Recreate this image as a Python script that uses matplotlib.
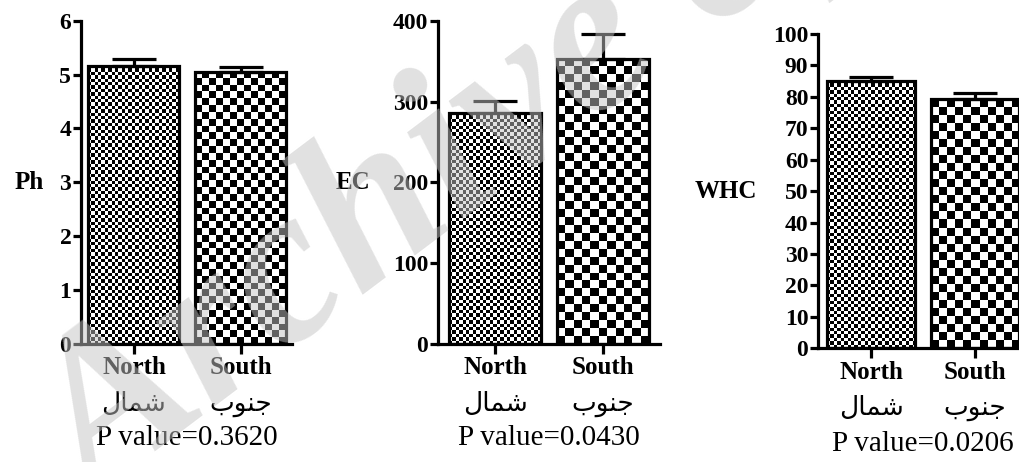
import numpy as np
import matplotlib
matplotlib.use('Agg')
import matplotlib.pyplot as plt

# ---------------- data ----------------
categories = ['North', 'South']
categories_fa = ['شمال', 'جنوب']
# Arabic presentation forms in visual order (matplotlib has no Arabic shaping)
fa_visual = {'شمال': '\ufedd\ufe8e\ufee4\ufeb7', 'جنوب': '\ufe8f\ufeee\ufee8\ufe9f'}

ph_means = [5.16, 5.05]
ph_err = [0.12, 0.09]
ec_means = [286, 353]
ec_err = [15, 30]
whc_means = [85.0, 79.2]
whc_err = [1.3, 1.9]

p_values = ['0.3620', '0.0430', '0.0206']
ylabels = ['Ph', 'EC', 'WHC']
yticks_ph = [0, 1, 2, 3, 4, 5, 6]
yticks_ec = [0, 100, 200, 300, 400]
yticks_whc = [0, 10, 20, 30, 40, 50, 60, 70, 80, 90, 100]

panels = [
    (ph_means, ph_err, yticks_ph),
    (ec_means, ec_err, yticks_ec),
    (whc_means, whc_err, yticks_whc),
]

# ---------------- layout ----------------
W, H = 1020, 462
fig = plt.figure(figsize=(W / 100, H / 100), dpi=100)
# pixel boxes: left, right, top, bottom
boxes = [(81, 292, 20.7, 344), (438, 660, 20.7, 344), (818, 1027, 34, 348.3)]
xlims = [(-0.495, 1.477), (-0.528, 1.528), (-0.51, 1.5)]
ylabel_x = [-0.175, -0.305, -0.29]
pval_y = [-0.291, -0.291, -0.303]
south_cell = [6.8, 8, 8]
north_cell = 3.4

SERIF = 'Liberation Serif'
LW = 2.3


def checker_fill(ax, bar, cell_px, zorder=2):
    x0, y0 = bar.get_x(), bar.get_y()
    w, h = bar.get_width(), bar.get_height()
    p0 = ax.transData.transform((x0, y0))
    p1 = ax.transData.transform((x0 + w, y0 + h))
    nx = max(1, int(round(abs(p1[0] - p0[0]) / cell_px)))
    ny = max(1, int(round(abs(p1[1] - p0[1]) / cell_px)))
    arr = (np.add.outer(np.arange(ny), np.arange(nx)) % 2).astype(float)
    im = ax.imshow(arr, cmap='gray', vmin=0, vmax=1,
                   extent=(x0, x0 + w, y0, y0 + h), origin='lower',
                   interpolation='nearest', aspect='auto', zorder=zorder)
    im.set_clip_path(bar)


for i, (means, errs, yt) in enumerate(panels):
    l, r, t, b = boxes[i]
    ax = fig.add_axes([l / W, 1 - b / H, (r - l) / W, (b - t) / H])
    ax.set_facecolor('none')
    x = np.arange(len(categories))
    ax.set_xlim(*xlims[i])
    ax.set_ylim(yt[0], yt[-1])
    bars = ax.bar(x, means, width=0.85, facecolor='none', edgecolor='black',
                  linewidth=LW, zorder=3)
    for j, bar in enumerate(bars):
        checker_fill(ax, bar, north_cell if j == 0 else south_cell[i])
    ax.errorbar(x, means, yerr=[np.zeros(len(errs)), errs], fmt='none',
                ecolor='black', elinewidth=LW, capsize=16, capthick=LW, zorder=4)
    ax.set_xlim(*xlims[i])
    ax.set_ylim(yt[0], yt[-1])

    for s in ['top', 'right']:
        ax.spines[s].set_visible(False)
    for s in ['left', 'bottom']:
        ax.spines[s].set_linewidth(LW)
        ax.spines[s].set_zorder(5)

    ax.set_yticks(yt)
    ax.set_yticklabels([str(v) for v in yt], fontsize=17, fontweight='bold',
                       family=SERIF)
    ax.set_xticks(x)
    ax.set_xticklabels(categories, fontsize=18, fontweight='bold', family=SERIF)
    ax.tick_params(axis='y', length=6, width=LW, pad=1)
    ax.tick_params(axis='x', length=7, width=LW, pad=2)

    for xi, fa in zip(x, categories_fa):
        ax.annotate(fa_visual[fa], xy=(xi, 0), xycoords=('data', 'axes fraction'),
                    xytext=(0, -43), textcoords='offset points', ha='center',
                    va='center', fontsize=19, family='DejaVu Sans')

    ax.set_xlabel(f'P value={p_values[i]}', fontsize=21, family=SERIF, va='center')
    ax.xaxis.set_label_coords(0.5, pval_y[i])
    ax.set_ylabel(ylabels[i], rotation=0, ha='right', va='center', fontsize=18,
                  fontweight='bold', family=SERIF)
    ax.yaxis.set_label_coords(ylabel_x[i], 0.5)

# watermark
fig.text(95 / W, -0.095, 'Archive of SID', rotation=37, rotation_mode='anchor',
         ha='left', va='baseline', fontsize=161, style='italic', fontweight='bold',
         family=SERIF, color='#c4c4c4', alpha=0.5, zorder=10)

fig.savefig('out.png', dpi=100)
